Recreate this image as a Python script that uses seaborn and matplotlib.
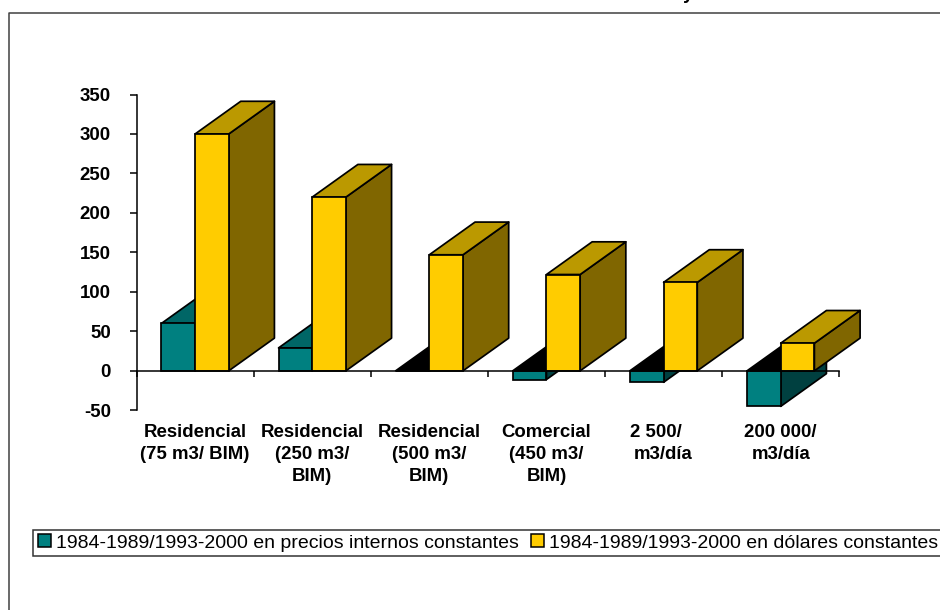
import matplotlib
matplotlib.use("Agg")
import matplotlib.pyplot as plt
from matplotlib.lines import Line2D
from matplotlib.patches import Polygon, Patch, Rectangle
import pandas as pd
import seaborn as sns

categories = ["Residencial\n(75 m3/ BIM)", "Residencial\n(250 m3/\nBIM)", "Residencial\n(500 m3/\nBIM)",
              "Comercial\n(450 m3/\nBIM)", "2 500/\u00a0\u00a0\u00a0\nm3/día", "200 000/\nm3/día"]
series_names = ["1984-1989/1993-2000 en precios internos constantes",
                "1984-1989/1993-2000 en dólares constantes"]
precios_internos = [60, 29, 0, -11, -14.5, -45]
dolares = [300, 220, 147, 122, 112, 35]
y_ticks = [-50, 0, 50, 100, 150, 200, 250, 300, 350]

# Face colours per series: front, top, side
FACES = {series_names[0]: ("#008080", "#006666", "#004040"),
         series_names[1]: ("#FFCC00", "#BB9900", "#806600")}
TOP_BELOW_ZERO = "#000000"
DEPTH_X, DEPTH_Y = 0.39, 41.4
EDGE = 1.25
LABEL_SIZE = 13.4
W, H = 940, 610

sns.set_theme(style="white")
plt.rcParams["font.family"] = ["Liberation Sans", "DejaVu Sans"]
plt.rcParams["axes.unicode_minus"] = False

data = pd.DataFrame({
    "categoria": categories * 2,
    "serie": [series_names[0]] * 6 + [series_names[1]] * 6,
    "valor": precios_internos + dolares,
})

fig = plt.figure(figsize=(W / 100, H / 100), dpi=100, facecolor="white")
ax = fig.add_axes([136.5 / W, 1 - 410.3 / H, (839.3 - 136.5) / W, (410.3 - 94.5) / H])
ax.patch.set_alpha(0)

sns.barplot(data=data, x="categoria", y="valor", hue="serie", order=categories,
            hue_order=series_names, palette=[FACES[s][0] for s in series_names],
            width=0.575, gap=0, saturation=1, edgecolor="black", linewidth=EDGE,
            legend=False, ax=ax, zorder=5)
ax.set_xlim(-0.5, 5.5)
ax.set_ylim(-50, 350)


def add_depth(bar, faces, order):
    """Extrude a front bar into a box using the fixed oblique depth."""
    x0, x1 = bar.get_x(), bar.get_x() + bar.get_width()
    y0, y1 = sorted((bar.get_y(), bar.get_y() + bar.get_height()))
    front, top, side = faces
    top_colour = TOP_BELOW_ZERO if y1 <= 0 and y0 <= 0 else top
    style = dict(edgecolor="black", linewidth=EDGE, clip_on=False, joinstyle="round")
    ax.add_patch(Polygon([(x1, y0), (x1 + DEPTH_X, y0 + DEPTH_Y), (x1 + DEPTH_X, y1 + DEPTH_Y), (x1, y1)],
                         facecolor=side, zorder=order, **style))
    ax.add_patch(Polygon([(x0, y1), (x0 + DEPTH_X, y1 + DEPTH_Y), (x1 + DEPTH_X, y1 + DEPTH_Y), (x1, y1)],
                         facecolor=top_colour, zorder=order, **style))
    bar.set_zorder(order + 0.5)
    bar.set_clip_on(False)


bars = list(ax.patches)
n = len(categories)
for i in range(n):
    add_depth(bars[i], FACES[series_names[0]], 3 + i * 0.01)
    add_depth(bars[n + i], FACES[series_names[1]], 4 + i * 0.01)

for name in ("top", "right"):
    ax.spines[name].set_visible(False)
for name in ("left", "bottom"):
    ax.spines[name].set_linewidth(1.1)
    ax.spines[name].set_color("black")
    ax.spines[name].set_zorder(6)
ax.spines["bottom"].set_position(("data", 0))

ax.set_xlabel("")
ax.set_ylabel("")
ax.set_yticks(y_ticks)
ax.tick_params(axis="y", which="major", length=5, width=1.1, color="black", pad=13.5, left=True,
               labelsize=LABEL_SIZE, labelcolor="black")
for label in ax.get_yticklabels():
    label.set_fontweight("bold")

# Tick marks fall between the groups; the labels sit on hidden minor ticks
ax.set_xticks([i - 0.5 for i in range(n + 1)], labels=[""] * (n + 1))
ax.set_xticks(range(n), labels=categories, minor=True, fontweight="bold", fontsize=LABEL_SIZE,
              color="black", linespacing=1.39)
ax.tick_params(axis="x", which="major", length=4.5, width=1.1, color="black", bottom=True)
ax.tick_params(axis="x", which="minor", length=0, pad=38)

# Legend box runs past the right edge of the figure
fig.add_artist(Rectangle((32.5 / W, 1 - 556 / H), (950 - 32.5) / W, 26 / H, transform=fig.transFigure,
                         facecolor="white", edgecolor="#333333", linewidth=1.1))
handles = [Patch(facecolor=FACES[s][0], edgecolor="black", linewidth=1.1, label=s) for s in series_names]
legend = fig.legend(handles=handles, ncol=2, loc="center left",
                    bbox_to_anchor=(38 / W, 1 - 543 / H), bbox_transform=fig.transFigure,
                    fontsize=14.0, frameon=False,
                    handlelength=0.66, handleheight=0.66, handletextpad=0.24, columnspacing=0.65,
                    borderpad=0, borderaxespad=0, labelcolor="black")

# Outer frame, open towards the right and bottom edges of the figure
fig.add_artist(Line2D([8.5 / W, 8.5 / W, 1], [0, 1 - 13 / H, 1 - 13 / H], color="#404040", linewidth=1.1))
# Descender of a heading that lies above the top edge
fig.text(688 / W, 1 + 1 / H, "y", fontsize=LABEL_SIZE, fontweight="bold", color="black", ha="center", va="baseline")

fig.savefig("out.png", dpi=100)
